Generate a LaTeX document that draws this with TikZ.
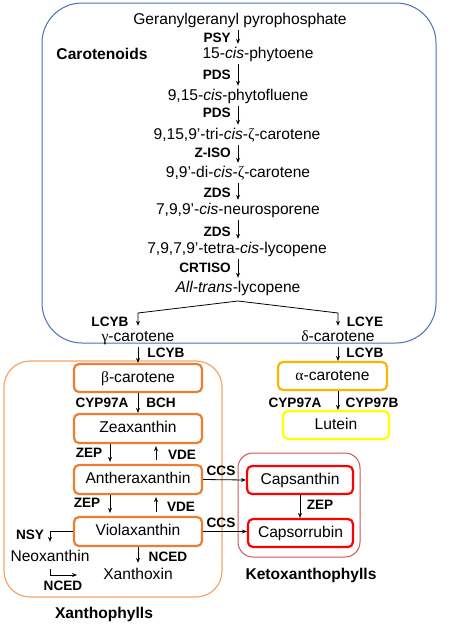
\documentclass[tikz,border=0pt]{standalone}
\usepackage{fontspec}
\setmainfont{Liberation Sans}
\newfontfamily\grk{Liberation Serif}
\usetikzlibrary{arrows.meta,calc}
\definecolor{cblue}{HTML}{4A6FB5}
\definecolor{corange}{HTML}{ED7D31}
\definecolor{clorange}{HTML}{F4A46A}
\definecolor{camber}{HTML}{FFB400}
\definecolor{cyel}{HTML}{FFFF00}
\definecolor{cred}{HTML}{FF0000}
\definecolor{cdred}{HTML}{C9585A}
\begin{document}
\begin{tikzpicture}[x=1pt,y=-1pt,
  txt/.style={font=\fontsize{15.6}{18}\selectfont, inner sep=2.5pt, text height=11.5pt, text depth=3.5pt},
  enz/.style={font=\fontsize{13.6}{16}\selectfont\bfseries, inner sep=0pt},
  grp/.style={font=\fontsize{15.6}{18}\selectfont\bfseries, inner sep=0pt},
  arr/.style={-{Stealth[length=5pt,width=4pt]}, line width=0.8pt},
  ln/.style={line width=0.8pt},
  box/.style={txt, draw, rounded corners=5pt, line width=2.2pt, minimum height=28pt, inner sep=0pt}
]
\useasboundingbox (0,0) rectangle (474,633);
% containers
\draw[cblue, line width=1pt, rounded corners=40pt] (42,3) rectangle (436,343);
\draw[clorange, line width=1.2pt, rounded corners=26pt] (4,361) rectangle (222,597);
\draw[cdred, line width=1pt, rounded corners=15pt] (238,453) rectangle (360,557);
% group labels
\node[grp] (lcar) at (102,54) {Carotenoids};
\node[grp] (lxan) at (104,614) {Xanthophylls};
\node[grp] (lket) at (311,575) {Ketoxanthophylls};
% main chain
\coordinate (ax) at (238,0);
\node[txt] (g0) at (240,20) {Geranylgeranyl pyrophosphate};
\node[txt] (g1) at (258,54) {15-\textit{cis}-phytoene};
\node[txt] (g2) at (238,96) {9,15-\textit{cis}-phytofluene};
\node[txt] (g3) at (237,135) {9,15,9’-tri-\textit{cis}-{\grk ζ}-carotene};
\node[txt] (g4) at (238,173) {9,9’-di-\textit{cis}-{\grk ζ}-carotene};
\node[txt] (g5) at (238,210) {7,9,9’-\textit{cis}-neurosporene};
\node[txt] (g6) at (237,249) {7,9,7,9’-tetra-\textit{cis}-lycopene};
\node[txt] (g7) at (238,288) {\textit{All-trans}-lycopene};
\draw[arr] (g0.south -| ax) -- (g1.north -| ax);
\draw[arr] (g1.south -| ax) -- (g2.north -| ax);
\draw[arr] (g2.south -| ax) -- (g3.north -| ax);
\draw[arr] (g3.south -| ax) -- (g4.north -| ax);
\draw[arr] (g4.south -| ax) -- (g5.north -| ax);
\draw[arr] (g5.south -| ax) -- (g6.north -| ax);
\draw[arr] (g6.south -| ax) -- (g7.north -| ax);
\node[enz, anchor=east] (e1) at (231,38) {PSY};
\node[enz, anchor=east] (e2) at (231,75) {PDS};
\node[enz, anchor=east] (e3) at (231,113) {PDS};
\node[enz, anchor=east] (e4) at (231,153) {Z-ISO};
\node[enz, anchor=east] (e5) at (231,193) {ZDS};
\node[enz, anchor=east] (e6) at (231,232) {ZDS};
\node[enz, anchor=east] (e7) at (231,268) {CRTISO};
% branch
\node[txt] (gam) at (138,337) {{\grk γ}-carotene};
\node[txt] (del) at (338,337) {{\grk δ}-carotene};
\coordinate (apex) at (238,301);
\coordinate (bl) at (138,313);
\coordinate (br) at (338,313);
\draw[arr] (apex) -- (bl) -- ([yshift=1pt]gam.north);
\draw[arr] (apex) -- (br) -- ([yshift=1pt]del.north);
\node[enz] (lcyb1) at (110,322) {LCYB};
\node[enz] (lcye) at (365,322) {LCYE};
% boxes
\node[box, corange, text=black, minimum width=128pt] (bcar) at (138,378) {{\grk β}-carotene};
\node[box, corange, text=black, minimum width=128pt, minimum height=29pt] (zea) at (138,428.5) {Zeaxanthin};
\node[box, corange, text=black, minimum width=128pt, minimum height=29pt] (ant) at (138,479.5) {Antheraxanthin};
\node[box, corange, text=black, minimum width=128pt, minimum height=29pt] (vio) at (138,531.5) {Violaxanthin};
\node[box, camber, text=black, minimum width=109pt] (acar) at (332.5,376) {{\grk α}-carotene};
\node[box, cyel, text=black, minimum width=106pt] (lut) at (336,425) {Lutein};
\node[box, cred, text=black, minimum width=106pt] (cap) at (300,480) {Capsanthin};
\node[box, cred, text=black, minimum width=105pt] (cpr) at (300.5,533) {Capsorrubin};
% arrows between boxes
\draw[arr] (gam.south) -- (bcar.north);
\node[enz] (lcyb2) at (166,353) {LCYB};
\draw[arr] (del.south) -- (acar.north -| del.south);
\node[enz] (lcyb3) at (365,353) {LCYB};
\draw[arr] (bcar.south) -- (zea.north);
\node[enz] (cypa) at (102,403) {CYP97A};
\node[enz] (bch) at (161,403) {BCH};
\draw[arr] (acar.south -| del.south) -- (lut.north -| del.south);
\node[enz] (cypa2) at (295,403) {CYP97A};
\node[enz] (cypb) at (372,403) {CYP97B};
\coordinate (xd) at (110,0);
\coordinate (xu) at (156,0);
\draw[arr, shorten >=2pt] (zea.south -| xd) -- (ant.north -| xd);
\draw[arr, shorten <=4pt, shorten >=2pt] (ant.north -| xu) -- (zea.south -| xu);
\node[enz] (zep1) at (89,453) {ZEP};
\node[enz] (vde1) at (182,455) {VDE};
\draw[arr, shorten >=3pt] (ant.south -| xd) -- (vio.north -| xd);
\draw[arr, shorten <=4pt, shorten >=2pt] (vio.north -| xu) -- (ant.south -| xu);
\node[enz] (zep2) at (87,503) {ZEP};
\node[enz] (vde2) at (181,507) {VDE};
\draw[arr] (ant.east) -- (cap.west);
\node[enz] (ccs1) at (221,471) {CCS};
\draw[arr] (vio.east) -- (cpr.west |- vio.east);
\node[enz] (ccs2) at (221,523) {CCS};
\draw[arr] (cap.south) -- (cpr.north -| cap.south);
\node[enz] (zep3) at (320,505) {ZEP};
% lower left
\node[txt] (neo) at (50,557) {Neoxanthin};
\node[txt] (xth) at (138,575) {Xanthoxin};
\draw[arr, shorten >=5pt] (vio.west) -| (neo.north);
\node[enz] (nsy) at (30,535) {NSY};
\draw[arr, shorten >=2pt] (vio.south) -- (xth.north);
\node[enz] (nced1) at (168,557) {NCED};
\coordinate (nx) at (77,575);
\draw[arr, ln] ([yshift=-2pt]neo.south) |- (nx);
\node[enz] (nced2) at (63,586) {NCED};
\end{tikzpicture}
\end{document}
